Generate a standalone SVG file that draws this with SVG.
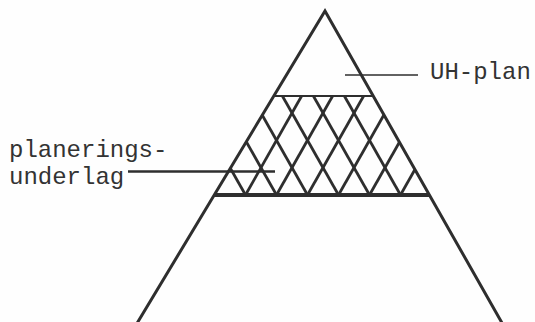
<svg xmlns="http://www.w3.org/2000/svg" width="535" height="322" viewBox="0 0 535 322">
<style>
.edge{fill:none;stroke:#2e2e2e;stroke-width:3;stroke-linejoin:miter}
.hatch{stroke:#2e2e2e;stroke-width:2.8;fill:none}
.lbl{font-family:"Liberation Mono","Courier New",monospace;font-size:24px;fill:#333333}
.lead{stroke:#2e2e2e;fill:none}
</style>
<defs>
<clipPath id="band"><polygon points="273.4,96 373.8,96 429.9,195 214,195"/></clipPath>
</defs>
<rect width="535" height="322" fill="#fefefe"/>
<g id="pyramid">
<polyline class="edge" points="133,330 325,11 506,330"/>
</g>
<g id="planeringsunderlag">
<g clip-path="url(#band)">
<line class="hatch" x1="189.4" y1="96" x2="245.5" y2="195"/>
<line class="hatch" x1="220.4" y1="96" x2="276.5" y2="195"/>
<line class="hatch" x1="251.4" y1="96" x2="307.5" y2="195"/>
<line class="hatch" x1="282.4" y1="96" x2="338.5" y2="195"/>
<line class="hatch" x1="313.4" y1="96" x2="369.5" y2="195"/>
<line class="hatch" x1="344.4" y1="96" x2="400.5" y2="195"/>
<line class="hatch" x1="301.6" y1="96" x2="245.5" y2="195"/>
<line class="hatch" x1="332.6" y1="96" x2="276.5" y2="195"/>
<line class="hatch" x1="363.6" y1="96" x2="307.5" y2="195"/>
<line class="hatch" x1="394.6" y1="96" x2="338.5" y2="195"/>
<line class="hatch" x1="425.6" y1="96" x2="369.5" y2="195"/>
<line class="hatch" x1="456.6" y1="96" x2="400.5" y2="195"/>
</g>
<line x1="274" y1="96" x2="373" y2="96" stroke="#2e2e2e" stroke-width="2"/>
<line x1="214" y1="195" x2="430" y2="195" stroke="#2e2e2e" stroke-width="4"/>
</g>
<g id="connectors">
<line class="lead" x1="345" y1="75" x2="418" y2="75" stroke-width="1.5"/>
<line class="lead" x1="128" y1="171.5" x2="275" y2="171.5" stroke-width="2.5"/>
</g>
<g id="label-uh">
<text class="lbl" x="430" y="79">UH-plan</text>
</g>
<g id="label-underlag">
<text class="lbl" x="9" y="157">planerings-</text>
<text class="lbl" x="9" y="184">underlag</text>
</g>
</svg>
